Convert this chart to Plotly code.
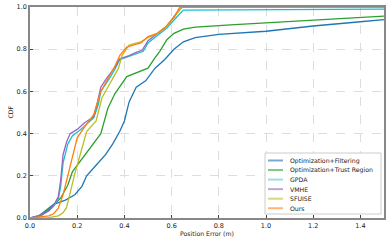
import plotly.graph_objects as go

names = ["Optimization+Filtering", "Optimization+Trust Region", "GPDA", "VMHE", "SFUISE", "Ours"]
colors = ["#1f77b4", "#2ca02c", "#17becf", "#9467bd", "#bcbd22", "#ff7f0e"]
legend_colors = ["#79a9d3", "#80c880", "#9edce6", "#bda5d6", "#d8d87a", "#ffb47a"]

filt_x = [0, 0.03, 0.06, 0.1, 0.15, 0.19, 0.22, 0.24, 0.28, 0.32, 0.35, 0.38, 0.4, 0.42, 0.45, 0.49, 0.53, 0.57, 0.61, 0.65, 0.7, 0.8, 1.0, 1.2, 1.4, 1.5]
filt_y = [0, 0.005, 0.03, 0.065, 0.085, 0.11, 0.15, 0.2, 0.25, 0.3, 0.35, 0.41, 0.46, 0.55, 0.62, 0.65, 0.71, 0.75, 0.8, 0.835, 0.855, 0.87, 0.885, 0.91, 0.93, 0.94]

trust_x = [0, 0.03, 0.05, 0.1, 0.13, 0.16, 0.18, 0.22, 0.27, 0.3, 0.33, 0.36, 0.41, 0.47, 0.5, 0.53, 0.55, 0.58, 0.61, 0.65, 0.7, 0.85, 1.0, 1.2, 1.5]
trust_y = [0, 0.005, 0.015, 0.06, 0.095, 0.155, 0.22, 0.28, 0.35, 0.4, 0.52, 0.59, 0.67, 0.695, 0.71, 0.76, 0.79, 0.845, 0.875, 0.895, 0.905, 0.915, 0.925, 0.938, 0.957]

gpda_x = [0, 0.02, 0.05, 0.08, 0.1, 0.12, 0.13, 0.14, 0.16, 0.18, 0.21, 0.24, 0.27, 0.29, 0.3, 0.33, 0.36, 0.38, 0.42, 0.46, 0.48, 0.5, 0.54, 0.58, 0.62, 0.65, 1.5]
gpda_y = [0, 0.005, 0.015, 0.035, 0.055, 0.09, 0.15, 0.26, 0.35, 0.39, 0.415, 0.445, 0.475, 0.54, 0.6, 0.65, 0.705, 0.75, 0.765, 0.78, 0.79, 0.83, 0.865, 0.9, 0.95, 0.985, 0.99]

vmhe_x = [0, 0.02, 0.05, 0.08, 0.1, 0.12, 0.13, 0.14, 0.155, 0.17, 0.2, 0.23, 0.27, 0.285, 0.3, 0.32, 0.36, 0.38, 0.42, 0.45, 0.475, 0.5, 0.54, 0.58, 0.62, 0.645, 1.5]
vmhe_y = [0, 0.005, 0.015, 0.035, 0.06, 0.1, 0.18, 0.3, 0.36, 0.4, 0.42, 0.45, 0.48, 0.545, 0.62, 0.655, 0.715, 0.755, 0.77, 0.785, 0.795, 0.84, 0.875, 0.91, 0.97, 0.999, 1.0]

sfuise_x = [0, 0.08, 0.12, 0.14, 0.155, 0.175, 0.19, 0.205, 0.225, 0.24, 0.28, 0.305, 0.34, 0.375, 0.39, 0.42, 0.47, 0.5, 0.54, 0.58, 0.62, 0.645, 1.5]
sfuise_y = [0, 0.002, 0.01, 0.025, 0.05, 0.147, 0.21, 0.27, 0.35, 0.41, 0.46, 0.57, 0.64, 0.71, 0.77, 0.82, 0.835, 0.855, 0.875, 0.91, 0.965, 1.0, 1.0]

ours_x = [0, 0.06, 0.08, 0.1, 0.12, 0.14, 0.155, 0.17, 0.185, 0.2, 0.23, 0.27, 0.3, 0.33, 0.36, 0.38, 0.41, 0.44, 0.47, 0.5, 0.54, 0.57, 0.61, 0.635, 1.5]
ours_y = [0, 0.005, 0.01, 0.02, 0.047, 0.11, 0.18, 0.245, 0.32, 0.38, 0.43, 0.49, 0.6, 0.66, 0.72, 0.77, 0.81, 0.82, 0.83, 0.86, 0.875, 0.9, 0.95, 1.0, 1.0]

x_ticks = [0.0, 0.2, 0.4, 0.6, 0.8, 1.0, 1.2, 1.4]
y_ticks = [0.0, 0.2, 0.4, 0.6, 0.8, 1.0]

series = [(filt_x, filt_y), (trust_x, trust_y), (gpda_x, gpda_y),
          (vmhe_x, vmhe_y), (sfuise_x, sfuise_y), (ours_x, ours_y)]

W, H = 392, 245
ML, MR, MT, MB = 30, 8, 7, 27
PW, PH = W - ML - MR, H - MT - MB
FONT = "DejaVu Sans"

def px2paper_x(px):
    return (px - ML) / PW

def px2paper_y(py):
    return (H - MB - py) / PH

fig = go.Figure()
for (xs, ys), n, c in zip(series, names, colors):
    fig.add_trace(go.Scatter(x=xs, y=ys, mode="lines", name=n, showlegend=False,
                             line=dict(color=c, width=1.3)))

# compact legend (matplotlib-like spacing)
shapes = [dict(type="rect", xref="paper", yref="paper",
               x0=px2paper_x(265), x1=px2paper_x(381),
               y0=px2paper_y(214), y1=px2paper_y(153),
               line=dict(color="#cccccc", width=1), fillcolor="white", layer="above")]
annotations = []
for i, (n, c) in enumerate(zip(names, legend_colors)):
    ly = 160.5 + i * 9.55
    shapes.append(dict(type="line", xref="paper", yref="paper",
                       x0=px2paper_x(268), x1=px2paper_x(283),
                       y0=px2paper_y(ly), y1=px2paper_y(ly),
                       line=dict(color=c, width=2), layer="above"))
    annotations.append(dict(text=n, xref="paper", yref="paper",
                            x=px2paper_x(287.5), y=px2paper_y(ly),
                            xanchor="left", yanchor="middle", showarrow=False,
                            font=dict(family=FONT, size=6.2, color="#222")))

annotations.append(dict(text="Position Error (m)", xref="paper", yref="paper",
                        x=0.5, y=px2paper_y(234), xanchor="center", yanchor="middle",
                        showarrow=False, font=dict(family=FONT, size=6.2, color="#222")))
annotations.append(dict(text="CDF", xref="paper", yref="paper",
                        x=px2paper_x(10), y=0.5, xanchor="center", yanchor="middle",
                        textangle=-90, showarrow=False,
                        font=dict(family=FONT, size=6.2, color="#222")))

axis_common = dict(
    showgrid=True, gridcolor="#dddddd", griddash="dash", gridwidth=0.8,
    ticks="inside", ticklen=3, tickcolor="#444", mirror=True, showline=True,
    linecolor="#888888", linewidth=1.5, zeroline=False, automargin=False,
    tickfont=dict(family=FONT, size=6.5, color="#222"),
)
fig.update_xaxes(range=[0, 1.5], tickvals=x_ticks, ticktext=[f"{v:.1f}" for v in x_ticks],
                 **axis_common)
fig.update_yaxes(range=[0, 1.0], tickvals=y_ticks, ticktext=[f"{v:.1f}" for v in y_ticks],
                 **axis_common)

fig.update_layout(
    width=W, height=H,
    margin=dict(l=ML, r=MR, t=MT, b=MB),
    plot_bgcolor="white", paper_bgcolor="white",
    showlegend=False,
    shapes=shapes, annotations=annotations,
)
fig.write_html("out.html", config={"displayModeBar": False},
               post_script="document.body.style.margin='0px';")
